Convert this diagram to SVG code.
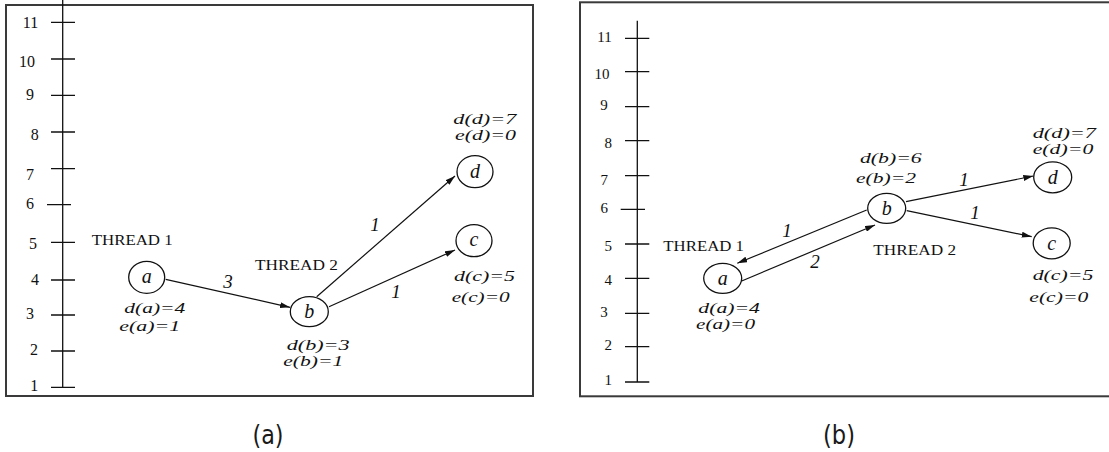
<svg xmlns="http://www.w3.org/2000/svg" width="1109" height="452" viewBox="0 0 1109 452">
<style>
.frame{fill:none;stroke:#3a3a3a;stroke-width:2}
.axis{fill:none;stroke:#111;stroke-width:1.3}
.tick{font-family:"Liberation Serif",serif;font-size:16px;fill:#111;text-anchor:middle}
.tickr{font-family:"Liberation Serif",serif;font-size:15px;fill:#111;text-anchor:middle}
.thr{font-family:"Liberation Serif",serif;font-size:15px;fill:#111}
.lab{font-family:"Liberation Serif",serif;font-style:italic;font-size:15px;fill:#111}
.node{fill:#fff;stroke:#111;stroke-width:1.3}
.nl{font-family:"Liberation Serif",serif;font-style:italic;font-size:20px;fill:#111;text-anchor:middle}
.w{font-family:"Liberation Serif",serif;font-style:italic;font-size:19px;fill:#111;text-anchor:middle}
.edge{fill:none;stroke:#111;stroke-width:1.2;marker-end:url(#ah)}
.cap{font-family:"DejaVu Sans",sans-serif;font-size:27px;fill:#1a1a1a;text-anchor:middle}
</style>
<defs>
<marker id="ah" markerUnits="userSpaceOnUse" markerWidth="11" markerHeight="6" refX="10" refY="3" orient="auto">
<path d="M0,0 L10,3 L0,6 z" fill="#111"/>
</marker>
</defs>
<rect width="1109" height="452" fill="#fff"/>

<g id="panel-a">
<rect class="frame" x="6" y="5" width="527" height="391"/>
<g id="axis-a">
<path class="axis" d="M62.7,0 V388 M51,22.3 H75 M51,59 H75 M51,95.3 H75 M51,132 H75 M51,168.7 H75 M47,204.7 H71 M51,242.3 H75 M51,280 H75 M51,315 H75 M51,351 H75 M51,387.3 H75"/>
<text class="tick" x="30.5" y="27.5">11</text>
<text class="tick" x="27" y="66.5">10</text>
<text class="tick" x="30" y="100">9</text>
<text class="tick" x="34.7" y="140">8</text>
<text class="tick" x="30" y="180">7</text>
<text class="tick" x="30" y="209">6</text>
<text class="tick" x="33" y="249">5</text>
<text class="tick" x="35" y="285">4</text>
<text class="tick" x="30" y="319">3</text>
<text class="tick" x="34" y="355">2</text>
<text class="tick" x="34.3" y="391">1</text>
</g>
<text class="thr" x="91.7" y="245" textLength="81" lengthAdjust="spacingAndGlyphs">THREAD 1</text>
<text class="thr" x="255" y="270" textLength="83" lengthAdjust="spacingAndGlyphs">THREAD 2</text>
<g id="conn-a">
<line class="edge" x1="165.7" y1="279.3" x2="290" y2="307.3"/>
<line class="edge" x1="316.7" y1="296.7" x2="455" y2="176"/>
<line class="edge" x1="329" y1="306.7" x2="455" y2="250"/>
<text class="w" x="228" y="288">3</text>
<text class="w" x="375" y="231">1</text>
<text class="w" x="396" y="298">1</text>
</g>
<g id="a-node-a">
<ellipse class="node" cx="146.7" cy="277.3" rx="18" ry="16"/>
<text class="nl" x="146.7" y="283">a</text>
<text class="lab" x="124.3" y="313" textLength="61" lengthAdjust="spacingAndGlyphs">d(a)=4</text>
<text class="lab" x="119.3" y="331" textLength="61" lengthAdjust="spacingAndGlyphs">e(a)=1</text>
</g>
<g id="a-node-b">
<ellipse class="node" cx="309.3" cy="311.7" rx="19" ry="15"/>
<text class="nl" x="309.3" y="318">b</text>
<text class="lab" x="286.7" y="350" textLength="63" lengthAdjust="spacingAndGlyphs">d(b)=3</text>
<text class="lab" x="283.3" y="366" textLength="60" lengthAdjust="spacingAndGlyphs">e(b)=1</text>
</g>
<g id="a-node-d">
<ellipse class="node" cx="475" cy="171.7" rx="18" ry="16"/>
<text class="nl" x="475" y="178">d</text>
<text class="lab" x="453.3" y="124" textLength="63" lengthAdjust="spacingAndGlyphs">d(d)=7</text>
<text class="lab" x="455" y="140" textLength="61" lengthAdjust="spacingAndGlyphs">e(d)=0</text>
</g>
<g id="a-node-c">
<ellipse class="node" cx="474" cy="240.7" rx="18" ry="16"/>
<text class="nl" x="474" y="246">c</text>
<text class="lab" x="454" y="281" textLength="61" lengthAdjust="spacingAndGlyphs">d(c)=5</text>
<text class="lab" x="451.7" y="302" textLength="58" lengthAdjust="spacingAndGlyphs">e(c)=0</text>
</g>
</g>

<g id="panel-b">
<rect class="frame" x="580" y="2.3" width="540" height="394"/>
<g id="axis-b">
<path class="axis" d="M637.3,20.7 V382.3 M625,38.3 H649.3 M625,71.7 H649.3 M625,106.7 H649.3 M625,140.7 H649.3 M625,175.7 H649.3 M620.7,209.3 H645 M625,244 H649.3 M625,278.3 H649.3 M625,313.3 H649.3 M625,346.7 H649.3 M625,382 H649.3"/>
<text class="tickr" x="604.5" y="41.7">11</text>
<text class="tickr" x="602" y="79">10</text>
<text class="tickr" x="604" y="110">9</text>
<text class="tickr" x="608.3" y="148">8</text>
<text class="tickr" x="604.3" y="185">7</text>
<text class="tickr" x="604.3" y="213">6</text>
<text class="tickr" x="608.3" y="250.7">5</text>
<text class="tickr" x="608.3" y="285">4</text>
<text class="tickr" x="604" y="316.7">3</text>
<text class="tickr" x="608.3" y="350">2</text>
<text class="tickr" x="608.3" y="385">1</text>
</g>
<text class="thr" x="663.3" y="250.7" textLength="80.7" lengthAdjust="spacingAndGlyphs" style="font-size:14px">THREAD 1</text>
<text class="thr" x="873.3" y="255" textLength="82.7" lengthAdjust="spacingAndGlyphs" style="font-size:14px">THREAD 2</text>
<g id="conn-b">
<line class="edge" x1="866.7" y1="210" x2="737.3" y2="263.3"/>
<line class="edge" x1="741.7" y1="281" x2="875" y2="225"/>
<line class="edge" x1="906" y1="201.7" x2="1033.3" y2="176"/>
<line class="edge" x1="906.7" y1="210.7" x2="1031.7" y2="236.7"/>
<text class="w" x="787" y="237">1</text>
<text class="w" x="815" y="268">2</text>
<text class="w" x="964" y="186">1</text>
<text class="w" x="975" y="219">1</text>
</g>
<g id="b-node-a">
<ellipse class="node" cx="722.7" cy="278.3" rx="19" ry="15"/>
<text class="nl" x="722.7" y="284.5">a</text>
<text class="lab" x="698.3" y="312.7" textLength="61.7" lengthAdjust="spacingAndGlyphs">d(a)=4</text>
<text class="lab" x="696" y="328.7" textLength="59" lengthAdjust="spacingAndGlyphs">e(a)=0</text>
</g>
<g id="b-node-b">
<ellipse class="node" cx="886.7" cy="208.3" rx="19" ry="15"/>
<text class="nl" x="886.7" y="215">b</text>
<text class="lab" x="860" y="163.3" textLength="61.7" lengthAdjust="spacingAndGlyphs">d(b)=6</text>
<text class="lab" x="856" y="183.3" textLength="60" lengthAdjust="spacingAndGlyphs">e(b)=2</text>
</g>
<g id="b-node-d">
<ellipse class="node" cx="1052.7" cy="177.3" rx="19" ry="15.5"/>
<text class="nl" x="1052.7" y="184">d</text>
<text class="lab" x="1032.7" y="137.5" textLength="63.3" lengthAdjust="spacingAndGlyphs">d(d)=7</text>
<text class="lab" x="1032.7" y="153.5" textLength="60.6" lengthAdjust="spacingAndGlyphs">e(d)=0</text>
</g>
<g id="b-node-c">
<ellipse class="node" cx="1051.7" cy="243.3" rx="18.5" ry="15.5"/>
<text class="nl" x="1051.7" y="249.5">c</text>
<text class="lab" x="1032.7" y="280" textLength="60.6" lengthAdjust="spacingAndGlyphs">d(c)=5</text>
<text class="lab" x="1029.3" y="301.7" textLength="59" lengthAdjust="spacingAndGlyphs">e(c)=0</text>
</g>
</g>

<text class="cap" x="268" y="444" textLength="31" lengthAdjust="spacingAndGlyphs">(a)</text>
<text class="cap" x="839" y="444" textLength="32" lengthAdjust="spacingAndGlyphs">(b)</text>
</svg>
